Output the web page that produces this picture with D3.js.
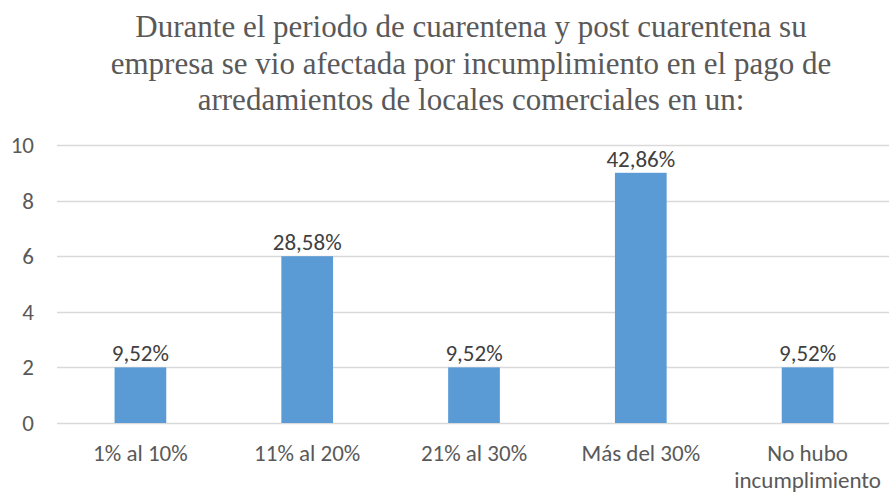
<!DOCTYPE html>
<html><head><meta charset="utf-8">
<script src="https://cdn.jsdelivr.net/npm/d3@7"></script>
<style>body{margin:0;background:#fff}</style>
</head><body>
<svg id="c" width="889" height="493"></svg>
<script>
const categories = ["1% al 10%", "11% al 20%", "21% al 30%", "Más del 30%", "No hubo incumplimiento"];
const values = [2, 6, 2, 9, 2];
const dataLabels = ["9,52%", "28,58%", "9,52%", "42,86%", "9,52%"];
const yTicks = [0, 2, 4, 6, 8, 10];
const titleLines = ["Durante el periodo de cuarentena y post cuarentena su",
  "empresa se vio afectada por incumplimiento en el pago de",
  "arredamientos de locales comerciales en un:"];

const svg = d3.select("#c");
const W = 889, H = 493;
const x = d3.scaleBand().domain(categories).range([57, 891]).padding(0);
const y = d3.scaleLinear().domain([0, 10]).range([423, 145]);
const sans = "Carlito, Calibri, 'Open Sans', sans-serif";

svg.append("g").selectAll("text").data(titleLines).join("text")
  .attr("x", 471).attr("y", (d, i) => 37 + i * 36.5)
  .attr("text-anchor", "middle")
  .attr("font-family", "'Liberation Serif', 'Times New Roman', serif")
  .attr("font-size", 31).attr("fill", "#595959").text(d => d);

svg.append("g").selectAll("line").data(yTicks).join("line")
  .attr("x1", 57).attr("x2", W).attr("y1", d => Math.round(y(d)) + 0.5).attr("y2", d => Math.round(y(d)) + 0.5)
  .attr("stroke", "#d9d9d9").attr("stroke-width", 1.3);

svg.append("g").selectAll("text").data(yTicks).join("text")
  .attr("x", 34).attr("y", d => y(d) + 8)
  .attr("text-anchor", "end").attr("font-family", sans).attr("font-size", 23)
  .attr("fill", "#595959").text(d => d);

const bw = x.bandwidth() * 0.31;
svg.append("g").selectAll("rect").data(values).join("rect")
  .attr("x", (d, i) => x(categories[i]) + x.bandwidth() / 2 - bw / 2)
  .attr("width", bw)
  .attr("y", d => y(d)).attr("height", d => y(0) - y(d))
  .attr("fill", "#5b9bd5");

svg.append("g").selectAll("text").data(values).join("text")
  .attr("x", (d, i) => x(categories[i]) + x.bandwidth() / 2)
  .attr("y", d => y(d) - 6)
  .attr("text-anchor", "middle").attr("font-family", sans).attr("font-size", 23)
  .attr("fill", "#404040").text((d, i) => dataLabels[i]);

const xl = svg.append("g").selectAll("text").data(categories).join("text")
  .attr("x", d => x(d) + x.bandwidth() / 2)
  .attr("y", 461)
  .attr("text-anchor", "middle").attr("font-family", sans).attr("font-size", 23)
  .attr("fill", "#595959");
xl.each(function(d) {
  const t = d3.select(this);
  const parts = d === "No hubo incumplimiento" ? ["No hubo", "incumplimiento"] : [d];
  parts.forEach((p, i) => t.append("tspan").attr("x", x(d) + x.bandwidth() / 2).attr("dy", i ? 27 : 0).text(p));
});
</script>
</body></html>
